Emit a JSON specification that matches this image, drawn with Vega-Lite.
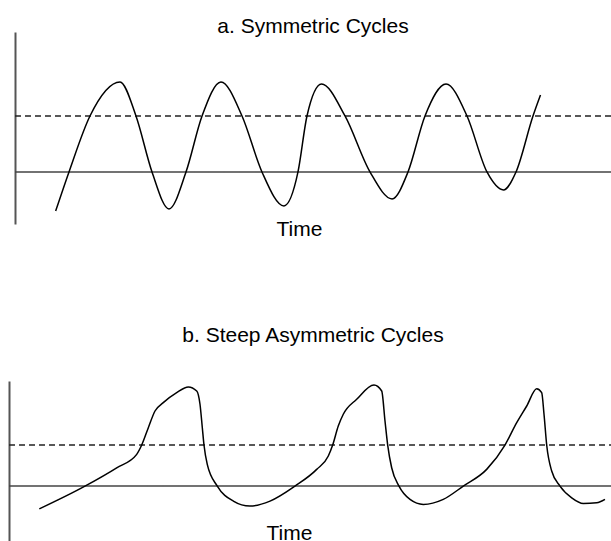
{
  "$schema": "https://vega.github.io/schema/vega-lite/v6.json",
  "background": "white",
  "padding": {"left": 8, "top": 16, "right": 0, "bottom": 0},
  "bounds": "flush",
  "spacing": 157,
  "config": {
    "view": {"stroke": null},
    "font": "Liberation Sans",
    "title": {"font": "Liberation Sans", "fontSize": 21, "fontWeight": "normal", "color": "#000", "baseline": "alphabetic", "frame": "group", "anchor": "middle"},
    "axisY": {"domain": true, "domainColor": "#555", "domainWidth": 2, "ticks": false, "labels": false, "grid": false, "title": null},
    "axisX": {"domain": false, "ticks": false, "labels": false, "grid": false, "titleFont": "Liberation Sans", "titleFontSize": 21, "titleFontWeight": "normal", "titleColor": "#000", "titleBaseline": "alphabetic", "titleAlign": "center"}
  },
  "datasets": {
    "symmetric": [
      {"t": 6.83, "v": -6.96}, {"t": 9.06, "v": 0}, {"t": 12.58, "v": 10}, {"t": 17.62, "v": 16.07},
      {"t": 20.3, "v": 10}, {"t": 22.99, "v": 0}, {"t": 25.84, "v": -6.61}, {"t": 28.69, "v": 0},
      {"t": 31.38, "v": 10}, {"t": 34.56, "v": 16.07}, {"t": 38.09, "v": 10}, {"t": 41.44, "v": 0},
      {"t": 45.13, "v": -6.07}, {"t": 47.48, "v": 0}, {"t": 48.99, "v": 10}, {"t": 51.43, "v": 15.71},
      {"t": 55.37, "v": 10}, {"t": 59.56, "v": 0}, {"t": 63.26, "v": -4.82}, {"t": 65.94, "v": 0},
      {"t": 68.79, "v": 10}, {"t": 72.32, "v": 15.71}, {"t": 75.84, "v": 10}, {"t": 79.19, "v": 0},
      {"t": 81.96, "v": -3.21}, {"t": 84.06, "v": 0}, {"t": 86.91, "v": 10}, {"t": 88.17, "v": 13.75}
    ],
    "asymmetric": [
      {"t": 4.08, "v": -5.54}, {"t": 11.74, "v": 0}, {"t": 17.06, "v": 4.46}, {"t": 20.42, "v": 7.73},
      {"t": 21.26, "v": 10}, {"t": 22.37, "v": 14.22}, {"t": 23.49, "v": 18.29}, {"t": 24.88, "v": 20.32},
      {"t": 27.13, "v": 22.76}, {"t": 29.08, "v": 24.15}, {"t": 30.49, "v": 23.17}, {"t": 31.04, "v": 19.93},
      {"t": 31.43, "v": 14.22}, {"t": 31.71, "v": 10}, {"t": 32.26, "v": 5.29}, {"t": 33.94, "v": 0},
      {"t": 36.63, "v": -3.66}, {"t": 39.43, "v": -4.88}, {"t": 42.79, "v": -3.66}, {"t": 46.98, "v": 0},
      {"t": 50.62, "v": 4.07}, {"t": 52.57, "v": 7.32}, {"t": 53.3, "v": 10}, {"t": 54.24, "v": 14.63},
      {"t": 55.08, "v": 17.49}, {"t": 57.33, "v": 21.15}, {"t": 60.23, "v": 24.63}, {"t": 61.53, "v": 23.17},
      {"t": 62.08, "v": 15.85}, {"t": 62.53, "v": 10}, {"t": 63.2, "v": 4.46}, {"t": 64.43, "v": 0},
      {"t": 66.28, "v": -3.24}, {"t": 68.51, "v": -4.46}, {"t": 71.86, "v": -3.24}, {"t": 75.22, "v": 0},
      {"t": 79.14, "v": 4.07}, {"t": 82.21, "v": 10}, {"t": 84.18, "v": 15.44}, {"t": 85.86, "v": 19.51},
      {"t": 87.53, "v": 23.73}, {"t": 88.37, "v": 22.76}, {"t": 88.76, "v": 17.49}, {"t": 89.21, "v": 10},
      {"t": 90.05, "v": 3.66}, {"t": 91.44, "v": 0}, {"t": 93.41, "v": -2.85}, {"t": 95.35, "v": -4.22},
      {"t": 97.6, "v": -4.07}, {"t": 98.99, "v": -3.24}
    ],
    "levels": [
      {"line": "solid", "v": 0},
      {"line": "dashed", "v": 10}
    ]
  },
  "vconcat": [
    {
      "width": 596,
      "height": 192,
      "title": {"text": "a. Symmetric Cycles", "offset": -5},
      "layer": [
        {
          "data": {"name": "levels"},
          "mark": {"type": "rule", "strokeWidth": 1.5},
          "encoding": {
            "y": {"field": "v", "type": "quantitative", "scale": {"domain": [-9.3, 25], "nice": false, "zero": false}},
            "x": {"datum": 0, "type": "quantitative"},
            "x2": {"datum": 100},
            "strokeDash": {"field": "line", "type": "nominal", "scale": {"domain": ["solid", "dashed"], "range": [[1, 0], [6, 4]]}, "legend": null},
            "color": {"field": "line", "type": "nominal", "scale": {"domain": ["solid", "dashed"], "range": ["#444", "#222"]}, "legend": null}
          }
        },
        {
          "data": {"name": "symmetric"},
          "mark": {"type": "line", "interpolate": "monotone", "color": "#000", "strokeWidth": 1.5},
          "encoding": {
            "x": {"field": "t", "type": "quantitative", "scale": {"domain": [0, 100], "nice": false, "zero": false}, "axis": {"title": "Time", "titleX": 284, "titleY": 11}},
            "y": {"field": "v", "type": "quantitative"}
          }
        }
      ]
    },
    {
      "width": 596,
      "height": 165,
      "title": {"text": "b. Steep Asymmetric Cycles", "offset": 35},
      "layer": [
        {
          "data": {"name": "levels"},
          "mark": {"type": "rule", "strokeWidth": 1.5},
          "encoding": {
            "y": {"field": "v", "type": "quantitative", "scale": {"domain": [-14.6, 25.6], "nice": false, "zero": false}, "axis": {"offset": 6}},
            "x": {"datum": -1, "type": "quantitative"},
            "x2": {"datum": 100},
            "strokeDash": {"field": "line", "type": "nominal", "scale": {"domain": ["solid", "dashed"], "range": [[1, 0], [6, 4]]}, "legend": null},
            "color": {"field": "line", "type": "nominal", "scale": {"domain": ["solid", "dashed"], "range": ["#444", "#222"]}, "legend": null}
          }
        },
        {
          "data": {"name": "asymmetric"},
          "mark": {"type": "line", "interpolate": "monotone", "color": "#000", "strokeWidth": 1.5},
          "encoding": {
            "x": {"field": "t", "type": "quantitative", "scale": {"domain": [0, 100], "nice": false, "zero": false}, "axis": {"title": "Time", "titleX": 274, "titleY": -7}},
            "y": {"field": "v", "type": "quantitative"}
          }
        }
      ]
    }
  ]
}
